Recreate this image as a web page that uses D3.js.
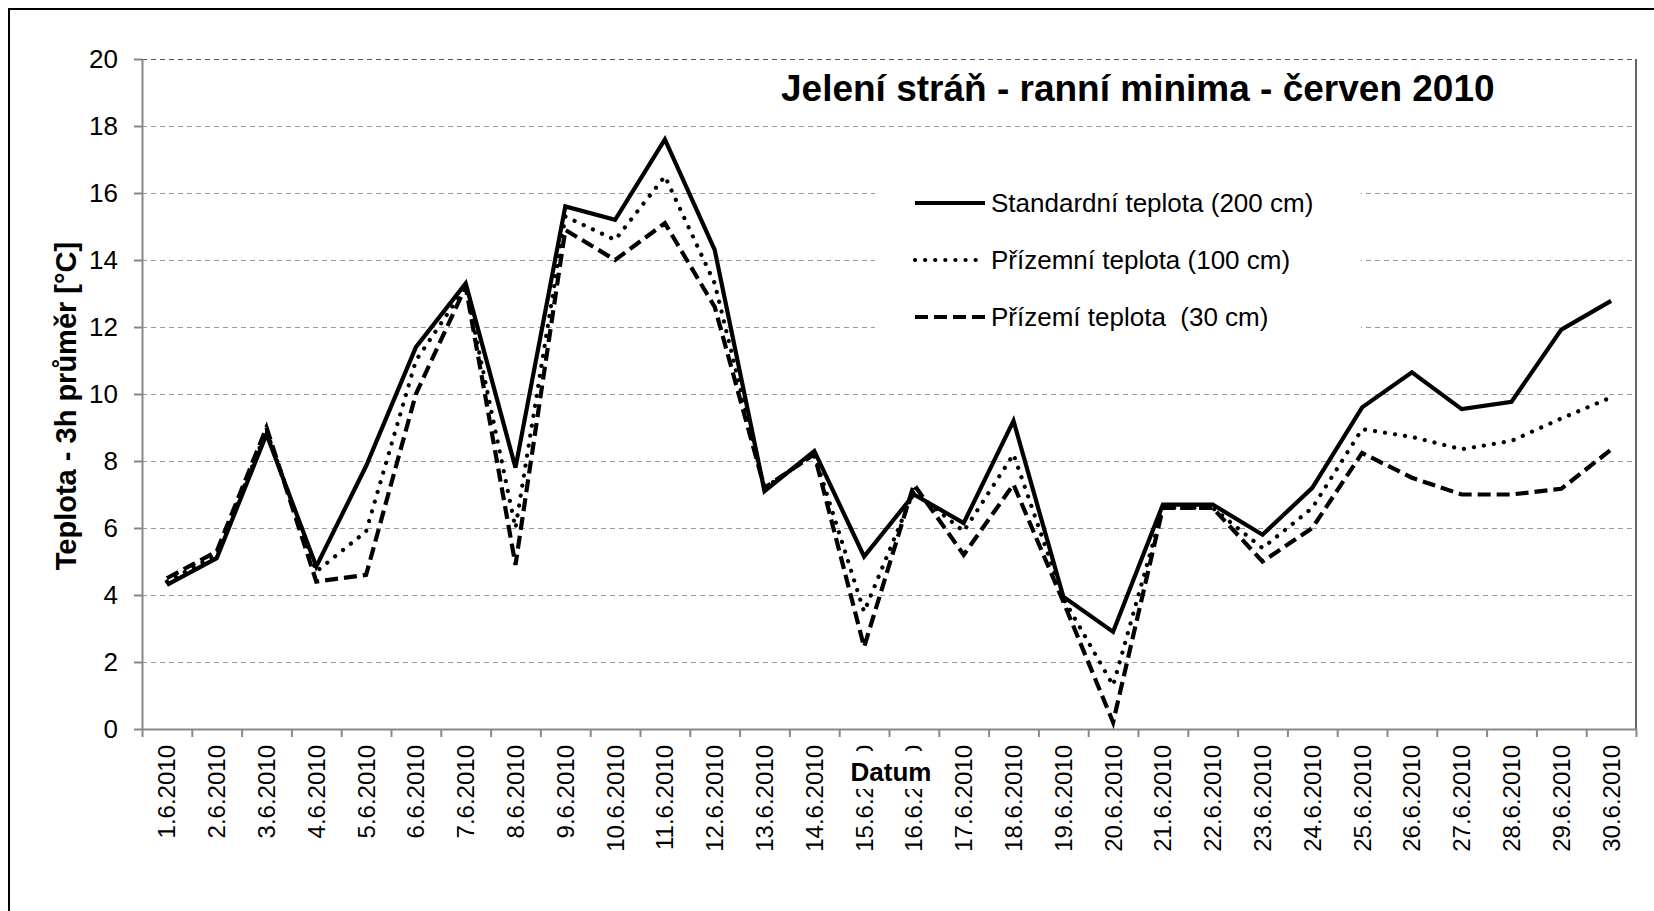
<!DOCTYPE html>
<html lang="cs">
<head>
<meta charset="utf-8">
<title>Jelení stráň - ranní minima - červen 2010</title>
<script src="https://cdn.jsdelivr.net/npm/d3@7"></script>
<style>
  body { margin: 0; background: #fff; }
  svg { display: block; font-family: "Liberation Sans", Arial, sans-serif; }
  .grid line { stroke: #999; stroke-dasharray: 5 4; }
  .grid path { display: none; }
  .axis path, .axis line { stroke: #888; stroke-width: 2; }
  .axis text { fill: #000; }
</style>
</head>
<body>
<svg id="chart" width="1654" height="911"></svg>
<script>
// dates on the x axis
const dates = ["1.6.2010","2.6.2010","3.6.2010","4.6.2010","5.6.2010","6.6.2010","7.6.2010","8.6.2010","9.6.2010","10.6.2010",
  "11.6.2010","12.6.2010","13.6.2010","14.6.2010","15.6.2010","16.6.2010","17.6.2010","18.6.2010","19.6.2010","20.6.2010",
  "21.6.2010","22.6.2010","23.6.2010","24.6.2010","25.6.2010","26.6.2010","27.6.2010","28.6.2010","29.6.2010","30.6.2010"]

// morning minima, 3h average [°C]
const t200 = [4.3, 5.1, 8.8, 4.85, 7.85, 11.4, 13.3, 7.8, 15.6, 15.2,
  17.6, 14.3, 7.1, 8.3, 5.15, 7.0, 6.15, 9.2, 3.95, 2.9,
  6.7, 6.7, 5.8, 7.2, 9.6, 10.65, 9.55, 9.77, 11.92, 12.78]
const t100 = [4.4, 5.2, 8.9, 4.7, 5.9, 11.0, 13.2, 6.0, 15.3, 14.6,
  16.5, 13.3, 7.2, 8.2, 3.5, 7.1, 5.9, 8.2, 3.9, 1.3,
  6.6, 6.6, 5.4, 6.6, 8.95, 8.72, 8.35, 8.6, 9.27, 9.9]
const t30 = [4.5, 5.3, 9.0, 4.4, 4.6, 10.0, 13.2, 4.9, 14.9, 14.0,
  15.1, 12.6, 7.2, 8.2, 2.45, 7.3, 5.2, 7.3, 3.8, 0.2,
  6.6, 6.6, 5.0, 6.0, 8.24, 7.5, 7.0, 7.0, 7.17, 8.34]

const yTicks = [0, 2, 4, 6, 8, 10, 12, 14, 16, 18, 20]

const series = [
  {name: "Standardní teplota (200 cm)", values: t200, dash: null, cap: "butt"},
  {name: "Přízemní teplota (100 cm)", values: t100, dash: "0.1 10", cap: "round"},
  {name: "Přízemí teplota  (30 cm)", values: t30, dash: "13 6", cap: "butt"}
]

const svg = d3.select("#chart")
const m = {left: 142, top: 59, right: 1636, bottom: 729}

// outer chart border (cut off at right and bottom in the original)
svg.append("rect")
  .attr("x", 9).attr("y", 9).attr("width", 1800).attr("height", 1000)
  .attr("fill", "none").attr("stroke", "#000").attr("stroke-width", 2)

const x = d3.scaleBand().domain(dates).range([m.left, m.right])
const xb = d3.scaleLinear().domain([0, dates.length]).range([m.left, m.right])
const y = d3.scaleLinear().domain([0, 20]).range([m.bottom, m.top])

// gridlines
svg.append("g")
  .attr("class", "grid")
  .attr("transform", `translate(${m.left},0)`)
  .call(d3.axisLeft(y).tickValues(yTicks.slice(1)).tickSize(-(m.right - m.left)).tickFormat(""))
  .selectAll("line")
  .filter(d => d == 20)
  .style("stroke", "#555")

// plot frame right side
svg.append("line")
  .attr("x1", m.right).attr("x2", m.right).attr("y1", m.top).attr("y2", m.bottom)
  .attr("stroke", "#333").attr("stroke-width", 1.5)

// y axis
const ya = svg.append("g")
  .attr("class", "axis")
  .attr("transform", `translate(${m.left},0)`)
  .call(d3.axisLeft(y).tickValues(yTicks).tickSize(8).tickPadding(16).tickSizeOuter(0))
ya.selectAll("text").style("font-size", "26px")

// x axis: ticks between categories
svg.append("g")
  .attr("class", "axis")
  .attr("transform", `translate(0,${m.bottom})`)
  .call(d3.axisBottom(xb).tickValues(d3.range(dates.length + 1)).tickSize(8).tickFormat("").tickSizeOuter(0))

// x labels
svg.append("g")
  .attr("transform", `translate(0,${m.bottom})`)
  .call(d3.axisBottom(x).tickSize(0).tickPadding(0))
  .call(g => g.select(".domain").remove())
  .selectAll("text")
  .style("font-size", "24px")
  .attr("text-anchor", "end")
  .attr("dy", null)
  .attr("transform", "translate(0,16) rotate(-90)")
  .attr("x", 0).attr("y", 0)
  .attr("dominant-baseline", "central")

// lines
const line = d3.line()
  .x((d, i) => x(dates[i]) + x.bandwidth() / 2)
  .y(d => y(d))

svg.append("g").selectAll("path")
  .data(series)
  .join("path")
  .attr("d", d => line(d.values))
  .attr("fill", "none")
  .attr("stroke", "#000")
  .attr("stroke-width", 4.2)
  .attr("stroke-linecap", d => d.cap)
  .attr("stroke-dasharray", d => d.dash)

// title
svg.append("text")
  .attr("x", 781).attr("y", 101)
  .style("font-size", "37px").style("font-weight", "bold")
  .text("Jelení stráň - ranní minima - červen 2010")

// legend
const lg = svg.append("g")
lg.append("rect")
  .attr("x", 875).attr("y", 165).attr("width", 486).attr("height", 175)
  .attr("fill", "#fff")
const items = lg.selectAll("g")
  .data(series)
  .join("g")
  .attr("transform", (d, i) => `translate(915,${203 + i * 57})`)
items.append("line")
  .attr("x1", 0).attr("x2", 70)
  .attr("stroke", "#000").attr("stroke-width", 4.2)
  .attr("stroke-linecap", d => d.cap)
  .attr("stroke-dasharray", d => d.dash)
items.append("text")
  .attr("x", 76).attr("dy", "0.35em")
  .style("font-size", "26px")
  .style("white-space", "pre")
  .text(d => d.name)

// axis titles
const xt = svg.append("g")
xt.append("rect")
  .attr("x", 842).attr("y", 751).attr("width", 98).attr("height", 38)
  .attr("fill", "#fff")
xt.append("text")
  .attr("x", 891).attr("y", 781)
  .attr("text-anchor", "middle")
  .style("font-size", "26px").style("font-weight", "bold")
  .text("Datum")

svg.append("text")
  .attr("transform", `translate(76,406) rotate(-90)`)
  .attr("text-anchor", "middle")
  .style("font-size", "29px").style("font-weight", "bold")
  .text("Teplota - 3h průměr [°C]")
</script>
</body>
</html>
